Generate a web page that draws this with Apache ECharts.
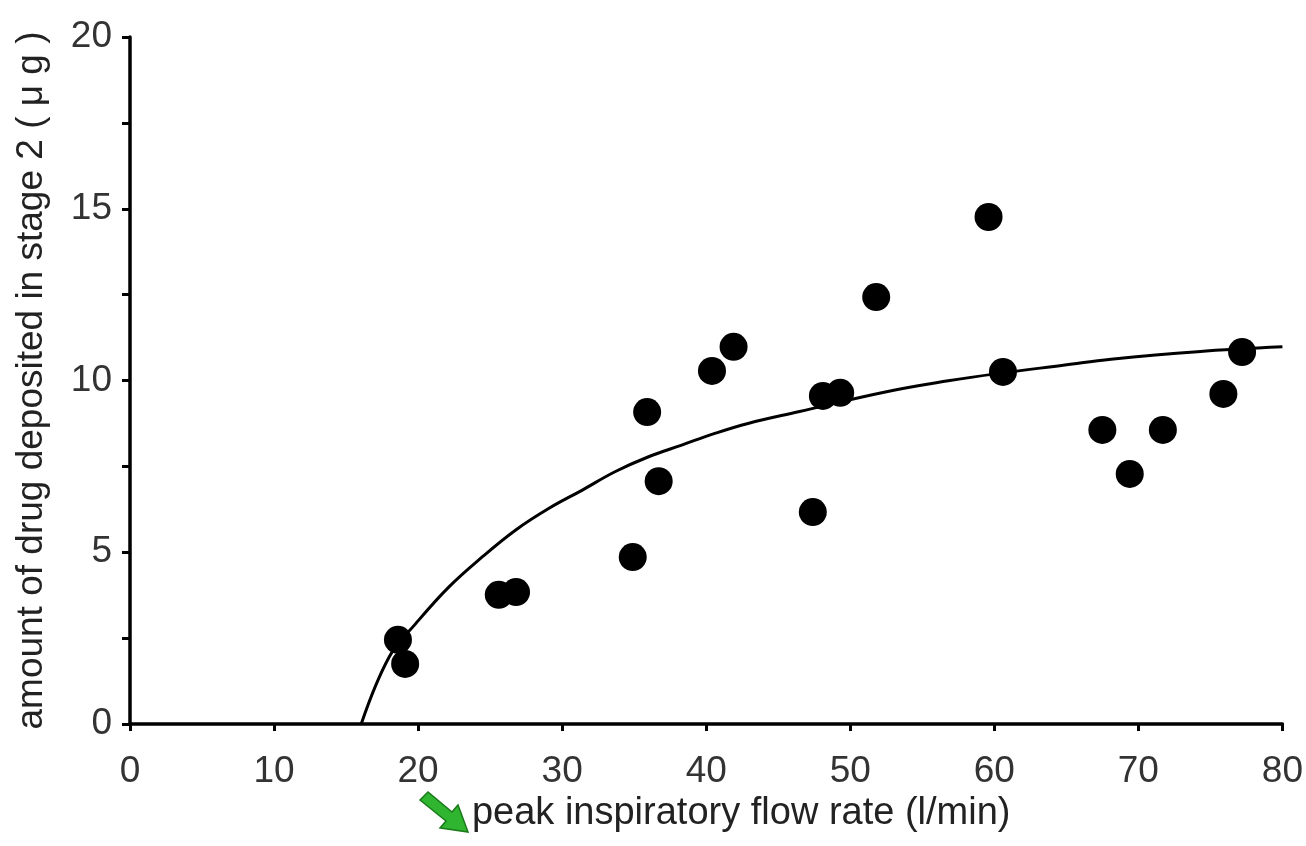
<!DOCTYPE html>
<html>
<head>
<meta charset="utf-8">
<script src="https://cdn.jsdelivr.net/npm/echarts@6/dist/echarts.min.js"></script>
<style>
html,body{margin:0;padding:0;background:#fff;}
#chart{width:1306px;height:846px;}
</style>
</head>
<body>
<div id="chart"></div>
<script>
// Measured points: peak inspiratory flow rate (l/min)
var flowRate = [18.6, 19.1, 25.6, 26.8, 34.9, 35.9, 36.7, 40.4, 41.9, 47.4, 48.1, 49.3, 51.8, 59.6, 60.6, 67.5, 69.4, 71.7, 75.9, 77.2];
// Amount of drug deposited in stage 2 (µg)
var deposited = [2.45, 1.75, 3.76, 3.84, 4.86, 9.08, 7.07, 10.28, 10.98, 6.17, 9.55, 9.64, 12.43, 14.76, 10.25, 8.56, 7.28, 8.56, 9.61, 10.83];
// Fitted curve
var curveX = [16.05, 18.0, 19.85, 22.16, 24.47, 26.78, 29.09, 31.4, 33.7, 36.0, 38.3, 40.6, 42.9, 46.4, 52.6, 56.8, 60.2, 64.9, 68.1, 74.1, 80.0];
var curveY = [0.0, 1.96, 2.93, 4.0, 4.87, 5.65, 6.28, 6.81, 7.35, 7.78, 8.12, 8.46, 8.75, 9.09, 9.68, 9.99, 10.2, 10.45, 10.62, 10.84, 10.98];
var xTicks = [0, 10, 20, 30, 40, 50, 60, 70, 80];
var yTicks = [0, 5, 10, 15, 20];

var points = flowRate.map(function (x, i) { return [x, deposited[i]]; });
var curve = curveX.map(function (x, i) { return [x, curveY[i]]; });

var FONT = 'Liberation Sans, Arial, sans-serif';
var chart = echarts.init(document.getElementById('chart'));
chart.setOption({
  animation: false,
  backgroundColor: '#ffffff',
  grid: { left: 130, right: 21, top: 37, bottom: 122, containLabel: false },
  xAxis: {
    type: 'value',
    min: xTicks[0], max: xTicks[xTicks.length - 1], interval: 10,
    name: 'peak inspiratory flow rate (l/min)',
    nameLocation: 'middle',
    nameGap: 68,
    nameTextStyle: { fontFamily: FONT, fontSize: 38, color: '#222', padding: [0, 0, 0, 70] },
    axisLine: { show: true, lineStyle: { color: '#000', width: 3.5 } },
    axisTick: { show: true, inside: false, length: 7, lineStyle: { color: '#000', width: 3 } },
    axisLabel: { fontFamily: FONT, fontSize: 37, color: '#333', margin: 29 },
    splitLine: { show: false }
  },
  yAxis: {
    type: 'value',
    min: yTicks[0], max: yTicks[yTicks.length - 1], interval: 5,
    name: 'amount of drug deposited in stage 2 ( μ g )',
    nameLocation: 'middle',
    nameGap: 80,
    nameTextStyle: { fontFamily: FONT, fontSize: 37, color: '#222' },
    axisLine: { show: true, lineStyle: { color: '#000', width: 3.5 } },
    axisTick: { show: true, inside: false, length: 8, lineStyle: { color: '#000', width: 3 } },
    minorTick: { show: true, splitNumber: 2, length: 8, lineStyle: { color: '#000', width: 3 } },
    axisLabel: { fontFamily: FONT, fontSize: 37, color: '#333', margin: 18 },
    splitLine: { show: false },
    minorSplitLine: { show: false }
  },
  series: [
    {
      type: 'line',
      data: curve,
      smooth: 0.4,
      showSymbol: false,
      lineStyle: { color: '#000', width: 3 },
      z: 2
    },
    {
      type: 'scatter',
      data: points,
      symbol: 'circle',
      symbolSize: 28,
      itemStyle: { color: '#000', opacity: 1 },
      z: 3
    }
  ],
  graphic: [
    {
      type: 'polygon',
      shape: { points: [[420, 800], [428, 792], [452, 812], [458, 805], [468, 832], [440, 828], [446, 821]] },
      style: { fill: '#2fb52f', stroke: '#1a7a1a', lineWidth: 1.5 }
    }
  ]
});
</script>
</body>
</html>
